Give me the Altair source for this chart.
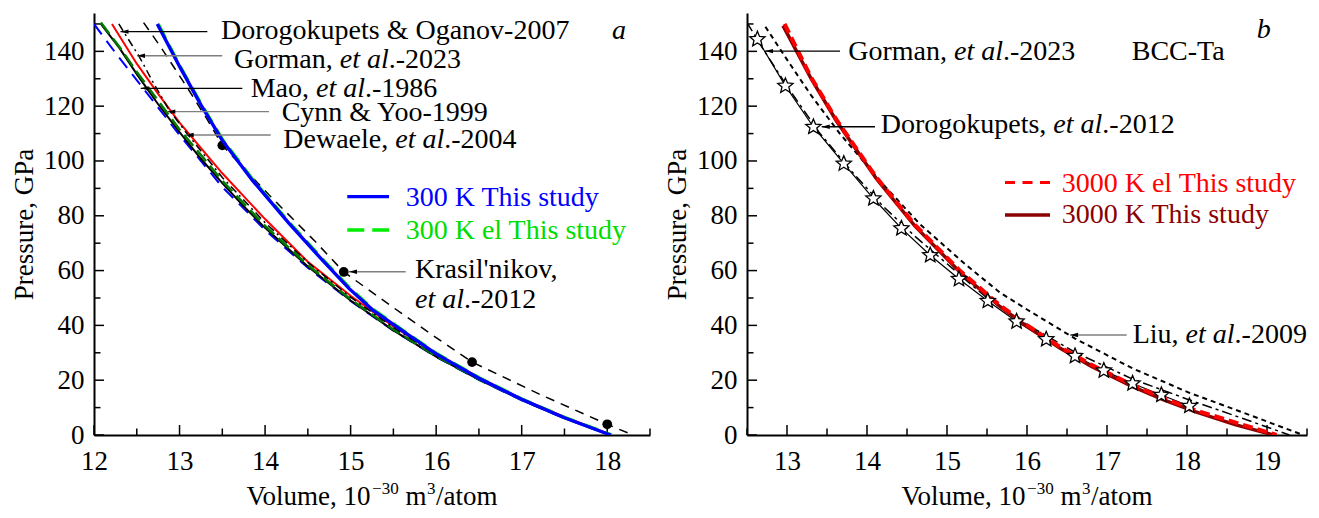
import altair as alt
import pandas as pd

FONT = "Liberation Serif"
W_A, W_B, H = 556, 560, 422
P_MAX = 154

# ---------------- panel a: 300 K isotherms (V in 1e-30 m^3/atom, P in GPa) ----------------
mao_v = [12.0, 12.25, 12.5, 12.75, 13.0, 13.5, 14.0, 14.5, 15.0, 15.5, 16.0, 16.5, 17.0, 17.5, 18.03]
mao_p = [150.0, 139.5, 129.5, 119.5, 109.5, 90.5, 74.8, 61.0, 48.9, 38.1, 28.5, 20.1, 12.7, 6.1, 0.0]

dewaele_v = [12.08, 12.3, 12.5, 12.75, 13.0, 13.25, 13.5, 13.75, 14.0, 14.5, 15.0, 15.5, 16.0, 16.5, 17.0, 17.5, 18.04]
dewaele_p = [150.0, 141.1, 131.7, 120.7, 110.5, 100.8, 91.9, 83.5, 75.6, 61.5, 49.1, 38.2, 28.6, 20.2, 12.8, 6.2, 0.0]

cynn_v = [12.08, 12.3, 12.5, 12.75, 13.0, 13.5, 14.0, 14.5, 15.0, 15.5, 16.0, 16.5, 17.0, 17.5, 18.04]
cynn_p = [150.5, 141.5, 132.5, 122.0, 111.5, 92.8, 76.3, 62.0, 49.5, 38.5, 28.8, 20.3, 12.9, 6.3, 0.0]

gorman_a_v = [12.21, 12.5, 12.75, 13.0, 13.5, 14.0, 14.5, 15.0, 15.5, 16.0, 16.5, 17.0, 17.5, 18.05]
gorman_a_p = [150.0, 135.5, 124.5, 114.0, 95.5, 78.8, 63.2, 50.8, 39.6, 29.6, 21.0, 13.3, 6.6, 0.0]

dorog07_v = [12.29, 12.53, 12.7, 12.88, 13.1, 13.5, 14.0, 14.5, 15.0, 15.5, 16.0, 16.5, 17.0, 17.5, 18.05]
dorog07_p = [150.0, 138.0, 128.2, 118.5, 109.5, 94.0, 77.5, 63.0, 50.3, 39.2, 29.3, 20.8, 13.2, 6.5, 0.0]

kras_v = [12.58, 12.78, 13.11, 13.33, 13.5, 14.05, 14.59, 14.92, 15.5, 16.0, 16.42, 17.2, 18.0, 18.3]
kras_p = [150.5, 141.6, 125.8, 114.8, 105.7, 87.5, 70.5, 59.5, 46.5, 35.5, 26.6, 15.0, 3.9, 0.0]
kras_pts_v = [13.5, 14.92, 16.42, 18.0]
kras_pts_p = [105.7, 59.5, 26.6, 3.9]

this300_v = [12.74, 13.0, 13.25, 13.5, 13.85, 14.28, 14.67, 14.98, 15.26, 15.65, 16.0, 16.5, 17.0, 17.5, 18.04]
this300_p = [150.0, 134.5, 120.5, 107.5, 93.0, 77.2, 63.8, 53.5, 45.6, 37.1, 29.6, 20.7, 13.0, 6.3, 0.0]

this300el_v = [12.75, 13.0, 13.25, 13.5, 13.85, 14.28, 14.67, 14.98, 15.26, 15.65, 16.0, 16.5, 17.0, 17.5, 18.05]
this300el_p = [150.0, 134.8, 120.9, 107.9, 93.4, 77.6, 64.2, 53.9, 45.9, 37.3, 29.8, 20.9, 13.1, 6.4, 0.0]

# ---------------- panel b: 3000 K isotherms ----------------
liu_v = [12.73, 13.0, 13.3, 13.66, 14.2, 14.66, 15.2, 15.66, 16.0, 16.6, 17.32, 18.03, 18.7, 19.45]
liu_p = [149.0, 137.0, 124.0, 110.0, 91.5, 77.0, 63.0, 52.0, 45.8, 35.2, 24.3, 15.4, 8.2, 0.0]

gorman_b_v = [12.5, 12.72, 13.0, 13.4, 13.8, 14.2, 14.6, 15.0, 15.5, 16.0, 16.6, 17.32, 18.03, 18.7, 19.28]
gorman_b_p = [150.5, 140.0, 127.3, 110.5, 96.5, 83.5, 72.5, 62.5, 50.0, 40.3, 30.2, 20.4, 12.8, 6.0, 0.0]

dorog12_v = [12.63, 12.98, 13.33, 13.71, 14.08, 14.43, 14.79, 15.15, 15.51, 15.87, 16.24, 16.6, 16.96, 17.32, 17.68, 18.03]
dorog12_p = [144.4, 127.4, 112.4, 99.0, 86.3, 75.4, 65.6, 56.9, 48.9, 41.4, 34.9, 28.8, 23.5, 18.8, 14.6, 10.6]

this3000_v = [12.95, 13.3, 13.62, 14.12, 14.6, 15.16, 15.66, 16.0, 16.41, 16.8, 17.3, 17.7, 18.1, 18.6, 19.08]
this3000_p = [149.4, 130.1, 114.5, 93.4, 76.2, 59.5, 46.9, 39.6, 31.7, 25.1, 17.9, 12.9, 8.5, 3.8, 0.0]

this3000el_v = [12.97, 13.3, 13.62, 14.12, 14.6, 15.16, 15.66, 16.0, 16.41, 16.8, 17.3, 17.7, 18.1, 18.6, 19.12]
this3000el_p = [150.0, 130.6, 115.0, 93.9, 76.7, 60.0, 47.4, 40.1, 32.2, 25.7, 18.5, 13.5, 9.1, 4.6, 0.0]

# axis ticks
xa_major = [12, 13, 14, 15, 16, 17, 18]
xa_minor = [12.5, 13.5, 14.5, 15.5, 16.5, 17.5, 18.5]
xb_major = [13, 14, 15, 16, 17, 18, 19]
xb_minor = [12.5, 13.5, 14.5, 15.5, 16.5, 17.5, 18.5, 19.5]
y_major = [0, 20, 40, 60, 80, 100, 120, 140]
y_minor = [10, 30, 50, 70, 90, 110, 130, 150]

# symbol outlines in the unit box
STAR = ("M0,-1L0.2645,-0.3641L0.9511,-0.309L0.428,0.1391L0.5878,0.809L0,0.45"
        "L-0.5878,0.809L-0.428,0.1391L-0.9511,-0.309L-0.2645,-0.3641Z")
HEAD = "M0,0L2,-0.55L2,0.55Z"

# Times-compatible advance widths (1/1000 em) used to chain mixed-style text runs
REG = {'G': 722, 'o': 500, 'r': 333, 'm': 778, 'a': 444, 'n': 500, ',': 250, ' ': 250,
       'M': 889, 'D': 722, 'e': 444, 'w': 722, 'l': 278, 'g': 500, 'k': 500, 'u': 500,
       'p': 500, 't': 278, 's': 389, 'L': 611, 'i': 278, 'V': 722, '1': 500, '0': 500,
       '/': 278, '3': 500, '\u2212': 564}
ITA = {'e': 444, 't': 278, ' ': 250, 'a': 500, 'l': 278}


def text_width(s, italic, size):
    table = ITA if italic else REG
    return sum(table.get(c, 500) for c in s) * size / 1000.0


def make_axes(dom_x, x_vals):
    def X(field):
        return alt.X(field, type="quantitative",
                     scale=alt.Scale(domain=dom_x, nice=False, zero=False),
                     axis=alt.Axis(values=x_vals, format="d", ticks=False, grid=False,
                                   domainColor="black", domainWidth=2,
                                   labelFont=FONT, labelFontSize=27, labelColor="black",
                                   labelPadding=13, labelFlush=False, labelOverlap=False,
                                   title=None))

    def Y(field):
        return alt.Y(field, type="quantitative",
                     scale=alt.Scale(domain=[0, P_MAX], nice=False, zero=False),
                     axis=alt.Axis(values=y_major, format="d", ticks=False, grid=False,
                                   domainColor="black", domainWidth=2,
                                   labelFont=FONT, labelFontSize=27, labelColor="black",
                                   labelPadding=10, labelFlush=False, labelOverlap=False,
                                   title="Pressure, GPa", titleFont=FONT, titleFontSize=27,
                                   titleFontWeight="normal", titleColor="black",
                                   titlePadding=5))
    return X, Y


def curve(X, Y, v, p, color, width, dash=None):
    df = pd.DataFrame({"V": v, "P": p})
    kw = dict(color=color, strokeWidth=width, clip=True)
    if dash:
        kw["strokeDash"] = dash
    return alt.Chart(df).mark_line(**kw).encode(x=X("V"), y=Y("P"))


def ticks(X, Y, xmaj, xmin):
    out = []
    for vals, ln in ((xmaj, 10), (xmin, 6.5)):
        out.append(alt.Chart(pd.DataFrame({"t": vals})).mark_rule(color="black", strokeWidth=1.5)
                   .encode(x=X("t"), y=alt.value(H), y2=alt.value(H - ln)))
    for vals, ln in ((y_major, 10), (y_minor, 6.5)):
        out.append(alt.Chart(pd.DataFrame({"t": vals})).mark_rule(color="black", strokeWidth=1.5)
                   .encode(y=Y("t"), x=alt.value(0), x2=alt.value(ln)))
    return out


def phrase(X, Y, v, p, parts, size=28, color="black"):
    """Chain text runs of mixed style, each run placed after the previous one."""
    out, off = [], 0.0
    for s, ital in parts:
        df = pd.DataFrame({"V": [v], "P": [p], "s": [s.strip()]})
        lead = text_width(s[:len(s) - len(s.lstrip())], ital, size)
        out.append(alt.Chart(df).mark_text(align="left", baseline="alphabetic", dx=off + lead,
                                           font=FONT, fontSize=size, color=color,
                                           fontStyle="italic" if ital else "normal")
                   .encode(x=X("V"), y=Y("P"), text="s:N"))
        off += text_width(s, ital, size)
    return out


def arrow(X, Y, tip, tail, p, color="black"):
    df = pd.DataFrame({"V": [tip], "V2": [tail], "P": [p]})
    line = alt.Chart(df).mark_rule(color=color, strokeWidth=1.4).encode(
        x=X("V"), x2="V2", y=Y("P"))
    head = alt.Chart(df).mark_point(shape=HEAD, filled=True, opacity=1,
                                    color="black", size=64).encode(x=X("V"), y=Y("P"))
    return [line, head]


def key(X, Y, v1, v2, p, color, width, dash=None):
    df = pd.DataFrame({"V": [v1], "V2": [v2], "P": [p]})
    kw = dict(color=color, strokeWidth=width)
    if dash:
        kw["strokeDash"] = dash
    return alt.Chart(df).mark_rule(**kw).encode(x=X("V"), x2="V2", y=Y("P"))


def volume_title(width):
    # (text, font size, baseline rise, gap before the run)
    runs = [("Volume, 10", 27, 0, 0.0), ("\u221230", 17, 11, -2.0), ("m", 27, 0, 6.75),
            ("3", 17, 11, 0.5), ("/atom", 27, 0, 0.5)]
    total = sum(text_width(s, False, sz) + gap for s, sz, _, gap in runs)
    x = width / 2 - total / 2
    out = []
    for s, sz, rise, gap in runs:
        x += gap
        out.append(alt.Chart(pd.DataFrame({"s": [s]})).mark_text(
            align="left", baseline="alphabetic", font=FONT, fontSize=sz, color="black")
            .encode(x=alt.value(x), y=alt.value(H + 70 - rise), text="s:N"))
        x += text_width(s, False, sz)
    return out


# ---------------- panel a ----------------
Xa, Ya = make_axes([12, 18.5], xa_major)
GRAY = "#7f7f7f"
layers_a = ticks(Xa, Ya, xa_major, xa_minor)
layers_a += [
    curve(Xa, Ya, mao_v, mao_p, "#0000ff", 2, [13, 8]),
    curve(Xa, Ya, dewaele_v, dewaele_p, "black", 2),
    curve(Xa, Ya, cynn_v, cynn_p, "#007a00", 2.5, [14, 6]),
    curve(Xa, Ya, gorman_a_v, gorman_a_p, "#ff0000", 2),
    curve(Xa, Ya, dorog07_v, dorog07_p, "black", 1.5, [8, 4, 2, 4]),
    curve(Xa, Ya, kras_v, kras_p, "black", 1.5, [9, 7]),
    alt.Chart(pd.DataFrame({"V": kras_pts_v, "P": kras_pts_p})).mark_circle(
        color="black", opacity=1, size=95).encode(x=Xa("V"), y=Ya("P")),
    curve(Xa, Ya, this300el_v, this300el_p, "#00ee00", 3.5, [16, 8]),
    curve(Xa, Ya, this300_v, this300_p, "#0000ff", 3.4),
]
layers_a += arrow(Xa, Ya, 12.31, 13.325, 147.2)
layers_a += phrase(Xa, Ya, 13.485, 144.5, [("Dorogokupets & Oganov-2007", False)])
layers_a += arrow(Xa, Ya, 12.503, 13.5, 138.4, GRAY)
layers_a += phrase(Xa, Ya, 13.637, 133.8, [("Gorman, ", False), ("et al", True), (".-2023", False)])
layers_a += arrow(Xa, Ya, 12.546, 13.734, 126.5)
layers_a += phrase(Xa, Ya, 13.832, 123.2, [("Mao, ", False), ("et al", True), (".-1986", False)])
layers_a += arrow(Xa, Ya, 12.857, 14.046, 118.0, GRAY)
layers_a += phrase(Xa, Ya, 14.194, 114.6, [("Cynn & Yoo-1999", False)])
layers_a += arrow(Xa, Ya, 13.072, 14.066, 109.5, GRAY)
layers_a += phrase(Xa, Ya, 14.213, 104.8, [("Dewaele, ", False), ("et al", True), (".-2004", False)])
layers_a += arrow(Xa, Ya, 14.981, 15.644, 59.6, GRAY)
layers_a += phrase(Xa, Ya, 15.753, 57.4, [("Krasil'nikov,", False)])
layers_a += phrase(Xa, Ya, 15.753, 46.2, [("et al", True), (".-2012", False)])
layers_a += phrase(Xa, Ya, 18.056, 144.4, [("a", True)])
layers_a += [key(Xa, Ya, 14.961, 15.449, 86.97, "#0000ff", 3.2),
             key(Xa, Ya, 14.961, 15.449, 74.8, "#00ee00", 3.5, [17, 8])]
layers_a += phrase(Xa, Ya, 15.644, 83.6, [("300 K This study", False)], color="#0000ff")
layers_a += phrase(Xa, Ya, 15.644, 71.4, [("300 K el This study", False)], color="#00dd00")
layers_a += volume_title(W_A)
panel_a = alt.layer(*layers_a).properties(width=W_A, height=H)

# ---------------- panel b ----------------
Xb, Yb = make_axes([12.5, 19.5], xb_major)
layers_b = ticks(Xb, Yb, xb_major, xb_minor)
layers_b += [
    curve(Xb, Yb, liu_v, liu_p, "black", 2, [5, 4]),
    curve(Xb, Yb, gorman_b_v, gorman_b_p, "black", 1.5, [10, 4, 3, 4]),
    curve(Xb, Yb, dorog12_v, dorog12_p, "black", 1.2),
    curve(Xb, Yb, this3000_v, this3000_p, "#8b0000", 3.5),
    curve(Xb, Yb, this3000el_v, this3000el_p, "#ff0000", 4, [10, 5]),
    alt.Chart(pd.DataFrame({"V": dorog12_v, "P": dorog12_p})).mark_point(
        shape=STAR, filled=True, fill="white", stroke="black", strokeWidth=1.3,
        opacity=1, size=256).encode(x=Xb("V"), y=Yb("P")),
]
layers_b += arrow(Xb, Yb, 12.725, 13.663, 140.1)
layers_b += phrase(Xb, Yb, 13.766, 136.9, [("Gorman, ", False), ("et al", True), (".-2023", False)])
layers_b += arrow(Xb, Yb, 13.434, 14.1, 112.5)
layers_b += phrase(Xb, Yb, 14.171, 110.1, [("Dorogokupets, ", False), ("et al", True), (".-2012", False)])
layers_b += arrow(Xb, Yb, 16.538, 17.246, 36.5, GRAY)
layers_b += phrase(Xb, Yb, 17.321, 33.5, [("Liu, ", False), ("et al", True), (".-2009", False)])
layers_b += phrase(Xb, Yb, 17.309, 136.9, [("BCC-Ta", False)])
layers_b += phrase(Xb, Yb, 18.871, 144.8, [("b", True)])
layers_b += [key(Xb, Yb, 15.725, 16.288, 92.1, "#ff0000", 3, [10, 7.5]),
             key(Xb, Yb, 15.725, 16.288, 80.3, "#8b0000", 3.5)]
layers_b += phrase(Xb, Yb, 16.434, 88.8, [("3000 K el This study", False)], color="#ff0000")
layers_b += phrase(Xb, Yb, 16.434, 77.3, [("3000 K This study", False)], color="#8b0000")
layers_b += volume_title(W_B)
panel_b = alt.layer(*layers_b).properties(width=W_B, height=H)

chart = (alt.hconcat(panel_a, panel_b, spacing=12)
         .properties(padding={"left": 10, "top": 13, "right": 0, "bottom": 0},
                     background="white")
         .configure_view(stroke=None))

chart.save("out.html", embed_options={"renderer": "svg", "actions": False})
